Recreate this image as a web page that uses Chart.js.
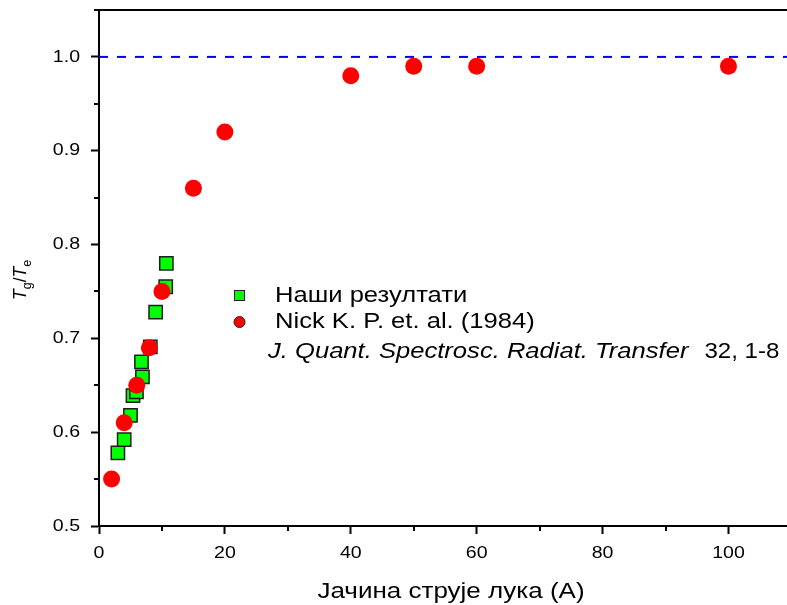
<!DOCTYPE html>
<html>
<head>
<meta charset="utf-8">
<script src="https://cdn.jsdelivr.net/npm/chart.js@4.4.1/dist/chart.umd.min.js"></script>
<style>
    html, body { margin: 0; padding: 0; background: #fff; }
    #wrap { width: 787px; height: 605px; }
</style>
</head>
<body>
<div id="wrap"><canvas id="ratioChart" width="787" height="605"></canvas></div>
<script>
'use strict';

// Our measurements: arc current (A) and Tg/Te
const ourCurrent = [3.0, 4.0, 5.0, 5.4, 5.95, 6.75, 6.9, 8.15, 9.0, 10.6, 10.7];
const ourRatio = [0.578, 0.592, 0.618, 0.639, 0.643, 0.675, 0.659, 0.691, 0.728, 0.755, 0.780];

// Nick K. P. et al. (1984)
const nickCurrent = [2, 4, 6, 8, 10, 15, 20, 40, 50, 60, 100];
const nickRatio = [0.55, 0.61, 0.65, 0.69, 0.75, 0.86, 0.92, 0.98, 0.99, 0.99, 0.99];

// Equilibrium level Tg = Te
const equilibriumRatio = 1.0;

// Axis ranges and ticks
const xRange = [0, 109.3];
const yRange = [0.5, 1.05];
const xMajorTicks = [0, 20, 40, 60, 80, 100];
const xMinorTicks = [10, 30, 50, 70, 90];
const yMajorTicks = [0.5, 0.6, 0.7, 0.8, 0.9, 1.0];
const yMinorTicks = [0.55, 0.65, 0.75, 0.85, 0.95, 1.05];

const FONT = "'Liberation Sans', Arial, sans-serif";
// text in this figure is drawn a bit wider than the plain font
const STRETCH = 1.19;

function toPoints(xs, ys) {
    return xs.map((x, i) => ({ x: x, y: ys[i] }));
}

function stretchedText(ctx, text, x, y, font, align, baseline, sx) {
    ctx.save();
    ctx.translate(x, y);
    ctx.scale(sx || STRETCH, 1);
    ctx.font = font;
    ctx.textAlign = align || 'left';
    ctx.textBaseline = baseline || 'alphabetic';
    ctx.fillText(text, 0, 0);
    const w = ctx.measureText(text).width * (sx || STRETCH);
    ctx.restore();
    return w;
}

// Minor ticks, tick labels, axis titles and the inline legend
const decorations = {
    id: 'decorations',
    afterDraw(chart) {
        const ctx = chart.ctx;
        const xs = chart.scales.x;
        const ys = chart.scales.y;
        const area = chart.chartArea;

        ctx.save();
        ctx.strokeStyle = '#000';
        ctx.lineWidth = 2;
        ctx.beginPath();
        xMinorTicks.forEach(v => {
            const px = Math.round(xs.getPixelForValue(v));
            ctx.moveTo(px, area.bottom);
            ctx.lineTo(px, area.bottom + 5);
        });
        yMinorTicks.forEach(v => {
            const py = Math.round(ys.getPixelForValue(v));
            ctx.moveTo(area.left - 5, py);
            ctx.lineTo(area.left, py);
        });
        ctx.stroke();
        ctx.restore();

        ctx.save();
        ctx.fillStyle = '#000';
        const tickFont = '17px ' + FONT;
        xMajorTicks.forEach(v => {
            stretchedText(ctx, String(v), xs.getPixelForValue(v), 553, tickFont, 'center', 'middle', 1.15);
        });
        yMajorTicks.forEach(v => {
            stretchedText(ctx, v.toFixed(1), 80, ys.getPixelForValue(v), tickFont, 'right', 'middle', 1.15);
        });

        // x title
        stretchedText(ctx, 'Јачина струје лука (А)', 451, 598, '21.5px ' + FONT, 'center', 'alphabetic', 1.21);

        // y title: T_g / T_e, rotated
        ctx.save();
        ctx.translate(26, 300);
        ctx.scale(1.05, 1);
        ctx.rotate(-Math.PI / 2);
        ctx.textBaseline = 'alphabetic';
        ctx.textAlign = 'left';
        let cx = 0;
        ctx.font = 'italic 17.5px ' + FONT;
        ctx.fillText('T', cx, 0); cx += ctx.measureText('T').width;
        ctx.font = '12.5px ' + FONT;
        ctx.fillText('g', cx, 5); cx += ctx.measureText('g').width;
        ctx.font = '17.5px ' + FONT;
        ctx.fillText('/', cx, 0); cx += ctx.measureText('/').width;
        ctx.font = 'italic 17.5px ' + FONT;
        ctx.fillText('T', cx, 0); cx += ctx.measureText('T').width;
        ctx.font = '12.5px ' + FONT;
        ctx.fillText('e', cx, 5);
        ctx.restore();
        ctx.restore();

        // legend
        ctx.save();
        ctx.lineWidth = 1;
        ctx.strokeStyle = '#222';
        ctx.fillStyle = '#00ff00';
        ctx.fillRect(234, 290, 11, 11);
        ctx.strokeRect(234.5, 290.5, 10, 10);
        ctx.beginPath();
        ctx.arc(239.5, 322, 5.5, 0, Math.PI * 2);
        ctx.fillStyle = '#ff0000';
        ctx.fill();
        ctx.stroke();

        ctx.fillStyle = '#000';
        const legendFont = '21.5px ' + FONT;
        stretchedText(ctx, 'Наши резултати', 275, 302, legendFont);
        stretchedText(ctx, 'Nick K. P. et. al. (1984)', 275, 328, legendFont);
        const jw = stretchedText(ctx, 'J. Quant. Spectrosc. Radiat. Transfer', 268, 358, 'italic ' + legendFont);
        stretchedText(ctx, '32, 1-8', 268 + jw + 16, 358, legendFont, 'left', 'alphabetic', 1.12);
        ctx.restore();
    }
};

const ctx = document.getElementById('ratioChart').getContext('2d');
const ratioChart = new Chart(ctx, {
    type: 'scatter',
    data: {
        datasets: [
            {
                label: 'Nick K. P. et. al. (1984)',
                data: toPoints(nickCurrent, nickRatio),
                pointStyle: 'circle',
                pointRadius: 8.5,
                backgroundColor: '#ff0000',
                borderColor: '#ff0000',
                borderWidth: 0,
                order: 0
            },
            {
                label: 'Наши резултати',
                data: toPoints(ourCurrent, ourRatio),
                pointStyle: 'rect',
                pointRadius: 9.4,
                backgroundColor: '#00ff00',
                borderColor: '#1e1e1e',
                borderWidth: 1.5,
                order: 1
            },
            {
                type: 'line',
                label: 'Tg = Te',
                data: [{ x: xRange[0], y: equilibriumRatio }, { x: xRange[1], y: equilibriumRatio }],
                borderColor: '#0000ff',
                borderWidth: 2,
                borderDash: [9, 9],
                pointRadius: 0,
                order: 2
            }
        ]
    },
    options: {
        responsive: false,
        animation: false,
        layout: { autoPadding: false, padding: { top: 10, right: 0, left: 0, bottom: 0 } },
        plugins: {
            legend: { display: false },
            tooltip: { enabled: false }
        },
        scales: {
            x: {
                type: 'linear',
                position: 'bottom',
                min: xRange[0],
                max: xRange[1],
                afterBuildTicks: s => { s.ticks = xMajorTicks.map(v => ({ value: v })); },
                afterFit: s => { s.height = 79; },
                ticks: { display: false },
                grid: { drawOnChartArea: false, drawTicks: true, tickLength: 8, tickWidth: 2, tickColor: '#000' },
                border: { color: '#000', width: 2 }
            },
            xTop: {
                type: 'linear',
                position: 'top',
                min: xRange[0],
                max: xRange[1],
                afterFit: s => { s.height = 0; },
                ticks: { display: false },
                grid: { display: false, drawTicks: false },
                border: { display: true, color: '#000', width: 2 }
            },
            y: {
                type: 'linear',
                min: yRange[0],
                max: yRange[1],
                afterBuildTicks: s => { s.ticks = yMajorTicks.map(v => ({ value: v })); },
                afterFit: s => { s.width = 99; },
                ticks: { display: false },
                grid: { drawOnChartArea: false, drawTicks: true, tickLength: 8, tickWidth: 2, tickColor: '#000' },
                border: { color: '#000', width: 2 }
            }
        }
    },
    plugins: [decorations]
});
</script>
</body>
</html>
